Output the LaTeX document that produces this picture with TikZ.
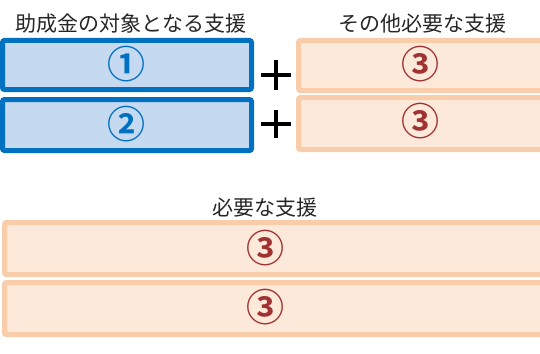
\documentclass[tikz,border=0pt]{standalone}
\usepackage{fontspec}
\newfontfamily\jp{Noto Sans CJK JP}
\newfontfamily\jpb{Noto Sans CJK JP Bold}
\definecolor{bluefill}{RGB}{197,217,241}
\definecolor{blueline}{RGB}{0,112,192}
\definecolor{orfill}{RGB}{252,233,218}
\definecolor{orline}{RGB}{250,205,170}
\definecolor{numred}{RGB}{160,50,50}
\begin{document}
\begin{tikzpicture}[x=1pt,y=-1pt,
  bluebox/.style={draw=blueline,fill=bluefill,line width=5pt,rounded corners=2pt},
  orbox/.style={draw=orline,fill=orfill,line width=5pt,rounded corners=2pt},
  title/.style={font=\jp\fontsize{21}{21}\selectfont,text=black!85,inner sep=0pt},
  bnum/.style={font=\jpb\fontsize{38}{38}\selectfont,text=blueline,inner sep=0pt},
  rnum/.style={font=\jpb\fontsize{38}{38}\selectfont,text=numred,inner sep=0pt},
  plus/.style={line width=3.5pt,black}]
\useasboundingbox (0,0) rectangle (540,353);
\clip (0,0) rectangle (540,353);
% titles
\node[title] (t1) at (131,24) {助成金の対象となる支援};
\node[title] (t2) at (422,24) {その他必要な支援};
\node[title] (t3) at (265,208) {必要な支援};
% top left boxes
\draw[bluebox] (2.5,40.5) rectangle (251.5,89.5);
\node[bnum] (n1) at (126,64) {①};
\draw[bluebox] (2.5,99.5) rectangle (251.5,150.5);
\node[bnum] (n2) at (126,124) {②};
% top right boxes
\draw[orbox] (298.5,40.5) rectangle (545,90.5);
\node[rnum] (n3) at (420,64) {③};
\draw[orbox] (298.5,97.5) rectangle (545,149.5);
\node[rnum] (n4) at (420,121) {③};
% plus signs
\coordinate (p1) at (276,75);
\coordinate (p2) at (276,124);
\draw[plus] ([xshift=-15pt]p1) -- ([xshift=15pt]p1) ([yshift=-15pt]p1) -- ([yshift=15pt]p1);
\draw[plus] ([xshift=-15pt]p2) -- ([xshift=15pt]p2) ([yshift=-14pt]p2) -- ([yshift=14pt]p2);
% bottom boxes
\draw[orbox] (4.5,222.5) rectangle (545,274.5);
\node[rnum] (n5) at (265,248) {③};
\draw[orbox] (4.5,282.5) rectangle (545,334.5);
\node[rnum] (n6) at (265,307) {③};
\end{tikzpicture}
\end{document}
